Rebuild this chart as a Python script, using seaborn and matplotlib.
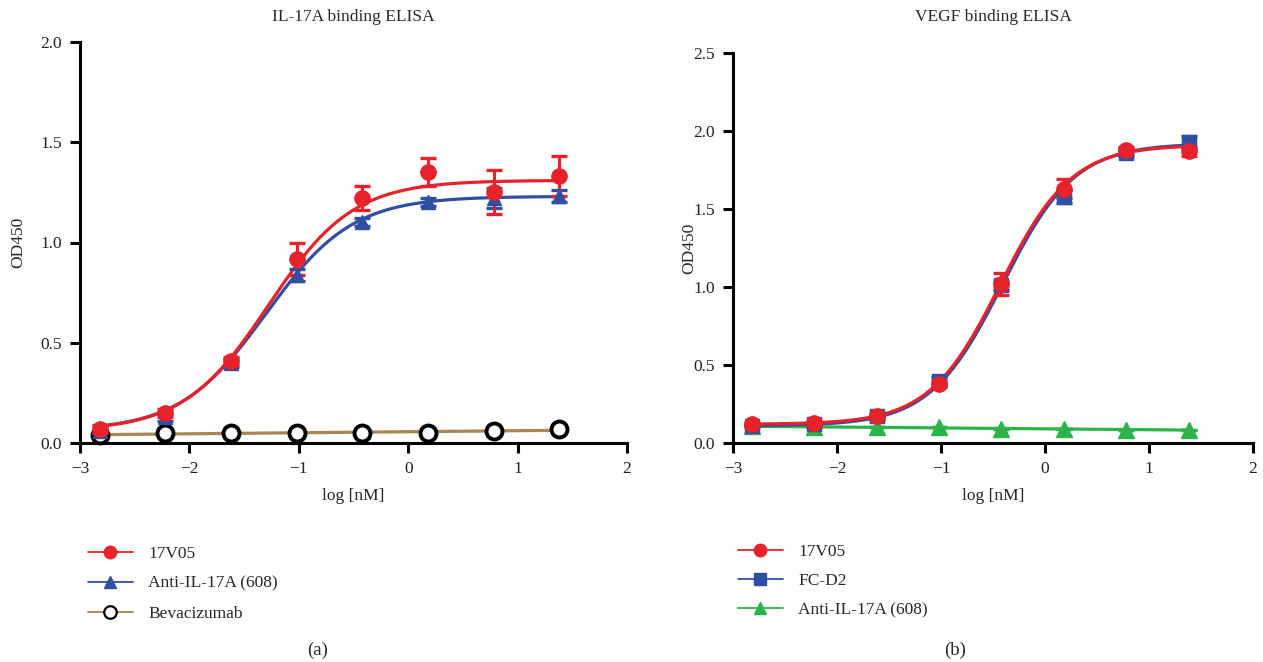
import numpy as np
import pandas as pd
import matplotlib
matplotlib.use("Agg")
import matplotlib.pyplot as plt
from matplotlib.lines import Line2D
import seaborn as sns

# ---------------- data ----------------
log_conc = [-2.82, -2.22, -1.62, -1.02, -0.42, 0.18, 0.78, 1.38]

# Panel (a): IL-17A binding ELISA
a_17v05 = [0.07, 0.15, 0.41, 0.92, 1.22, 1.35, 1.25, 1.33]
a_17v05_err = [0.02, 0.02, 0.02, 0.08, 0.06, 0.07, 0.11, 0.10]
a_anti = [0.06, 0.13, 0.40, 0.84, 1.10, 1.20, 1.22, 1.23]
a_anti_err = [0.01, 0.02, 0.02, 0.03, 0.02, 0.02, 0.05, 0.03]
a_bev = [0.04, 0.05, 0.05, 0.05, 0.05, 0.05, 0.06, 0.07]
# 4PL fit parameters: bottom, top, logEC50, hill
a_17v05_fit = [0.06, 1.31, -1.28, 1.12]
a_anti_fit = [0.06, 1.23, -1.30, 1.10]

# Panel (b): VEGF binding ELISA
b_17v05 = [0.12, 0.13, 0.17, 0.38, 1.02, 1.63, 1.88, 1.87]
b_17v05_err = [0.01, 0.01, 0.01, 0.02, 0.07, 0.06, 0.02, 0.03]
b_fcd2 = [0.11, 0.12, 0.17, 0.40, 1.01, 1.58, 1.86, 1.93]
b_fcd2_err = [0.01, 0.01, 0.02, 0.02, 0.03, 0.04, 0.02, 0.04]
b_anti = [0.11, 0.10, 0.10, 0.10, 0.09, 0.09, 0.085, 0.085]
b_17v05_fit = [0.12, 1.91, -0.43, 1.27]
b_fcd2_fit = [0.11, 1.92, -0.41, 1.25]

titles = ["IL-17A binding ELISA", "VEGF binding ELISA"]
panel_tags = ["(a)", "(b)"]

RED = "#e8222b"
BLUE = "#2f4fa2"
BROWN = "#a88552"
GREEN = "#2cb34a"

sns.set_style("ticks")
plt.rcParams["font.family"] = ["Liberation Serif", "DejaVu Serif"]
plt.rcParams["axes.unicode_minus"] = True

fig = plt.figure(figsize=(12.63, 6.62), dpi=100)
W, H = 1263, 662


def axrect(x0, x1, ytop, ybot):
    return [x0 / W, 1 - ybot / H, (x1 - x0) / W, (ybot - ytop) / H]


ax1 = fig.add_axes(axrect(80, 627, 42, 443))
ax2 = fig.add_axes(axrect(733, 1253, 53, 443))

xs = np.linspace(-2.85, 1.42, 300)


def four_pl(x, p):
    b, t, e, h = p
    return b + (t - b) / (1 + 10 ** ((e - x) * h))


def curve(ax, p, color):
    sns.lineplot(x=xs, y=four_pl(xs, p), ax=ax, color=color, lw=2.3, zorder=3)


def linfit(ax, ys, color):
    c = np.polyfit(log_conc, ys, 1)
    sns.lineplot(x=xs, y=np.polyval(c, xs), ax=ax, color=color, lw=2.3, zorder=2)


def points(ax, ys, err, color, marker, ms):
    ax.errorbar(log_conc, ys, yerr=err, fmt=marker, color=color, ms=ms,
                mfc=color, mec=color,
                ecolor=color, elinewidth=2.2, capsize=6, capthick=2.4,
                linestyle="none", zorder=4, clip_on=False)


# ---- panel a ----
linfit(ax1, a_bev, BROWN)
ax1.plot(log_conc, a_bev, "o", ms=11.5, mfc="white", mec="black", mew=2.8,
         linestyle="none", zorder=3, clip_on=False)
curve(ax1, a_anti_fit, BLUE)
points(ax1, a_anti, a_anti_err, BLUE, "^", 10)
curve(ax1, a_17v05_fit, RED)
points(ax1, a_17v05, a_17v05_err, RED, "o", 11)

ax1.set_xlim(-3, 2)
ax1.set_ylim(0, 2.0)
ax1.set_yticks([0, 0.5, 1.0, 1.5, 2.0])
ax1.set_yticklabels(["0.0", "0.5", "1.0", "1.5", "2.0"])

# ---- panel b ----
linfit(ax2, b_anti, GREEN)
points(ax2, b_anti, [0] * len(b_anti), GREEN, "^", 11)
curve(ax2, b_fcd2_fit, BLUE)
points(ax2, b_fcd2, b_fcd2_err, BLUE, "s", 10)
curve(ax2, b_17v05_fit, RED)
points(ax2, b_17v05, b_17v05_err, RED, "o", 11)

ax2.set_xlim(-3, 2)
ax2.set_ylim(0, 2.5)
ax2.set_yticks([0, 0.5, 1.0, 1.5, 2.0, 2.5])
ax2.set_yticklabels(["0.0", "0.5", "1.0", "1.5", "2.0", "2.5"])

for ax, title, tx, ylp in zip([ax1, ax2], titles, [353, 993], [10, -3]):
    ax.set_xticks([-3, -2, -1, 0, 1, 2])
    ax.set_xticklabels(["\u22123", "\u22122", "\u22121", "0", "1", "2"])
    sns.despine(ax=ax)
    for s in ["left", "bottom"]:
        ax.spines[s].set_linewidth(2.2)
        ax.spines[s].set_color("black")
    ax.tick_params(axis="both", width=2.2, length=7, labelsize=12.5,
                   color="black", labelcolor="#222222", pad=6)
    ax.set_xlabel("log [nM]", fontsize=12.5, labelpad=8)
    ax.set_ylabel("OD450", fontsize=12.5, labelpad=ylp)
    ax.set_facecolor("white")
    fig.text(tx / W, 1 - 17 / H, title, ha="center", va="center", fontsize=12.5)

# ---- legends ----
leg_a = [
    Line2D([], [], color=RED, lw=1.3, marker="o", ms=9, mec=RED),
    Line2D([], [], color=BLUE, lw=1.3, marker="^", ms=9, mec=BLUE),
    Line2D([], [], color=BROWN, lw=1.3, marker="o", ms=9, mfc="white", mec="black", mew=1.6),
]
leg_b = [
    Line2D([], [], color=RED, lw=1.3, marker="o", ms=9, mec=RED),
    Line2D([], [], color=BLUE, lw=1.3, marker="s", ms=9, mec=BLUE),
    Line2D([], [], color=GREEN, lw=1.3, marker="^", ms=9, mec=GREEN),
]
labels_a = ["17V05", "Anti-IL-17A (608)", "Bevacizumab"]
labels_b = ["17V05", "FC-D2", "Anti-IL-17A (608)"]

fig.legend(leg_a, labels_a, loc="upper left", bbox_to_anchor=(72 / W, 1 - 530 / H),
           frameon=False, fontsize=12.5, handlelength=2.6, labelspacing=0.8,
           handletextpad=0.9)
fig.legend(leg_b, labels_b, loc="upper left", bbox_to_anchor=(722 / W, 1 - 528 / H),
           frameon=False, fontsize=12.5, handlelength=2.6, labelspacing=0.75,
           handletextpad=0.9)

fig.text(318 / W, 1 - 650 / H, panel_tags[0], ha="center", va="center", fontsize=13.5)
fig.text(955 / W, 1 - 650 / H, panel_tags[1], ha="center", va="center", fontsize=13.5)

fig.savefig("out.png", dpi=100, facecolor="white")
